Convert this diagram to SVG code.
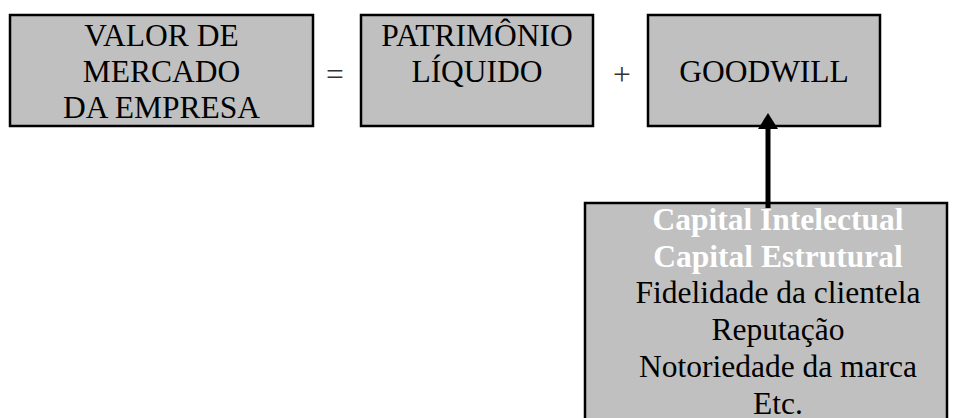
<svg xmlns="http://www.w3.org/2000/svg" width="956" height="418" viewBox="0 0 956 418">
<style>
.box{fill:#c0c0c0;stroke:#000;stroke-width:2.5}
text{font-family:"Liberation Serif","Times New Roman",serif;font-size:31.5px;text-anchor:middle;fill:#000}
.w{fill:#fff;font-weight:bold}
.op{fill:#333}
</style>
<defs>
<marker id="ah" markerWidth="4" markerHeight="4" refX="0" refY="2" orient="auto" markerUnits="strokeWidth">
<path d="M0,0 L3.2,2 L0,4 z" fill="#000"/>
</marker>
</defs>
<rect width="956" height="418" fill="#fff"/>
<g id="valor">
<rect class="box" x="10" y="15" width="303" height="111"/>
<text x="161.5" y="46">VALOR DE</text>
<text x="161.5" y="82">MERCADO</text>
<text x="161.5" y="118">DA EMPRESA</text>
</g>
<g id="eq"><text class="op" x="335" y="85">=</text></g>
<g id="pl">
<rect class="box" x="361" y="15" width="232" height="111"/>
<text x="477" y="46">PATRIMÔNIO</text>
<text x="477" y="82">LÍQUIDO</text>
</g>
<g id="plus"><text class="op" x="622" y="85">+</text></g>
<g id="goodwill">
<rect class="box" x="648" y="15" width="232" height="111"/>
<text x="764" y="82">GOODWILL</text>
</g>
<g id="capital">
<rect class="box" x="585" y="203" width="362" height="230"/>
<text class="w" x="778" y="230">Capital Intelectual</text>
<text class="w" x="778" y="267">Capital Estrutural</text>
<text x="778" y="303">Fidelidade da clientela</text>
<text x="778" y="340">Reputação</text>
<text x="778" y="377">Notoriedade da marca</text>
<text x="778" y="414">Etc.</text>
</g>
<g id="connectors">
<line x1="768" y1="208" x2="768" y2="129" stroke="#000" stroke-width="5" marker-end="url(#ah)"/>
</g>
</svg>
